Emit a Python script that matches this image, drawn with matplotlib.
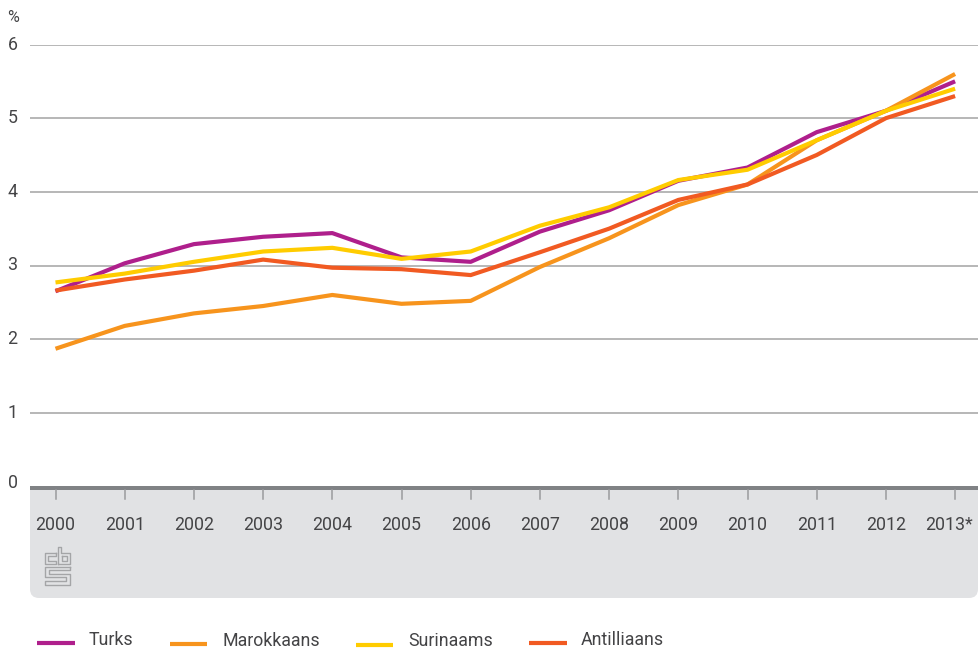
import matplotlib
matplotlib.use('Agg')
import matplotlib.pyplot as plt
from matplotlib.lines import Line2D
from matplotlib.patches import FancyBboxPatch, Rectangle
from matplotlib.transforms import Affine2D, ScaledTranslation

years = [2000, 2001, 2002, 2003, 2004, 2005, 2006, 2007, 2008, 2009, 2010, 2011, 2012, 2013]
year_labels = ['2000', '2001', '2002', '2003', '2004', '2005', '2006', '2007', '2008', '2009',
               '2010', '2011', '2012', '2013*']
y_ticks = [0, 1, 2, 3, 4, 5, 6]

turks = [2.65, 3.03, 3.29, 3.39, 3.44, 3.11, 3.05, 3.46, 3.75, 4.15, 4.33, 4.81, 5.10, 5.50]
marokkaans = [1.87, 2.18, 2.35, 2.45, 2.60, 2.48, 2.52, 2.98, 3.37, 3.82, 4.10, 4.70, 5.10, 5.60]
surinaams = [2.77, 2.89, 3.05, 3.19, 3.24, 3.09, 3.19, 3.54, 3.79, 4.16, 4.30, 4.70, 5.10, 5.40]
antilliaans = [2.66, 2.81, 2.93, 3.08, 2.97, 2.95, 2.87, 3.18, 3.50, 3.89, 4.10, 4.50, 5.00, 5.30]

W, H = 980, 649
TEXT = '#444446'
plt.rcParams['font.family'] = 'Roboto'


def fx(px):
    return px / W


def fy(py):
    return 1 - py / H


fig = plt.figure(figsize=(W / 100, H / 100), dpi=100)
px_trans = Affine2D().scale(1 / W, -1 / H).translate(0, 1) + fig.transFigure

# grey panel under the axis, the white strip hides its rounded top
fig.add_artist(FancyBboxPatch((30, 470), 948, 128, boxstyle='round,pad=0,rounding_size=9',
                              transform=px_trans, fc='#e1e2e4', ec='none', zorder=0))
fig.add_artist(Rectangle((0, 440), W, 46, transform=px_trans, fc='white', ec='none', zorder=0.5))

ax = fig.add_axes([fx(30), fy(486.5), fx(948), fy(44.5) - fy(486.5)], zorder=2)
ax.patch.set_alpha(0)
ax.set_xlim(2000 - 25.5 / 69.2, 2000 + 922.5 / 69.2)
ax.set_ylim(0, 6)
for s in ax.spines.values():
    s.set_visible(False)
ax.set_xticks(years)
ax.set_xticklabels(year_labels, fontsize=12.8, color=TEXT)
ax.tick_params(axis='x', length=0, pad=21)
# the starred label is pulled in from the right edge
last = ax.get_xticklabels()[-1]
last.set_transform(last.get_transform() + ScaledTranslation(-6 / 100, 0, fig.dpi_scale_trans))
ax.set_yticks(y_ticks[1:])
ax.set_yticklabels([])
ax.tick_params(axis='y', length=0)
ax.grid(axis='y', color='#a3a3a3', lw=1.1)
ax.set_axisbelow(True)

ax.plot(years, turks, color='#af1f8c', lw=3.0, solid_capstyle='butt')
ax.plot(years, marokkaans, color='#f7941d', lw=3.0, solid_capstyle='butt')
ax.plot(years, surinaams, color='#ffcc00', lw=3.0, solid_capstyle='butt')
ax.plot(years, antilliaans, color='#f15a22', lw=3.0, solid_capstyle='butt')

# y labels sit left of the plot
for v in y_ticks:
    ypx = 44.5 + (6 - v) * 73.6 if v else 483
    fig.text(fx(12.5), fy(ypx), str(v), fontsize=12.8, color=TEXT, ha='center', va='center')
fig.text(fx(13), fy(17), '%', fontsize=11.5, color=TEXT, ha='center', va='center')

# heavy axis line and ticks
fig.add_artist(Rectangle((30, 486), 948, 4, transform=px_trans, fc='#808285', ec='none', zorder=3))
for yr in years:
    xp = 55.5 + (yr - 2000) * 69.2
    fig.add_artist(Line2D([xp, xp], [490, 499], transform=px_trans, color='#9a9b9d', lw=1.1, zorder=3))

# cbs logo outline
logo = [
    [(56, 553), (45, 553), (45, 564), (56, 564), (56, 561), (48, 561), (48, 556), (56, 556), (56, 553)],
    [(58, 564), (58, 547), (61, 547), (61, 553), (70, 553), (70, 564), (58, 564)],
    [(62, 556), (67, 556), (67, 561), (62, 561), (62, 556)],
    [(70, 567), (45, 567), (45, 577), (66, 577), (66, 581), (45, 581), (45, 585), (70, 585),
     (70, 574), (49, 574), (49, 570), (70, 570), (70, 567)],
]
for pts in logo:
    fig.add_artist(Line2D([p[0] for p in pts], [p[1] for p in pts], transform=px_trans,
                          color='#a4a5a7', lw=1.0, zorder=3))

# hand placed legend, as in the original
legend_items = [
    ('Turks', '#af1f8c', 37, 75, 642.5, 89, 640),
    ('Marokkaans', '#f7941d', 170, 207, 643.5, 222, 641),
    ('Surinaams', '#ffcc00', 356, 393, 644.5, 408, 641.5),
    ('Antilliaans', '#f15a22', 529, 567, 642.5, 581, 640),
]
for name, col, x0, x1, yl, xt, yt in legend_items:
    fig.add_artist(Line2D([x0, x1], [yl, yl], transform=px_trans, color=col, lw=3.0, solid_capstyle='butt'))
    fig.text(fx(xt), fy(yt), name, fontsize=12.8, color=TEXT, ha='left', va='center')

fig.savefig('out.png', dpi=100)
